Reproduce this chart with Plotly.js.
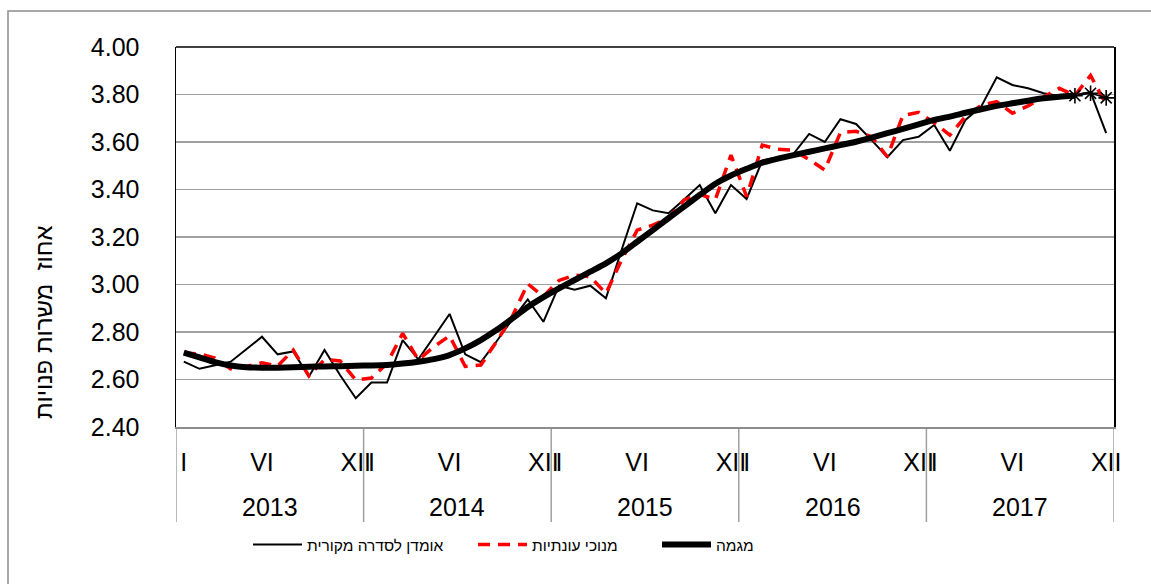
<!DOCTYPE html>
<html>
<head>
<meta charset="utf-8">
<script src="https://cdn.plot.ly/plotly-3.0.1.min.js"></script>
<style>html,body{margin:0;padding:0;background:#fff;}#chart{width:1151px;height:584px;}</style>
</head>
<body>
<div id="chart"></div>
<script>
// ---- data ----
const years = ['2013', '2014', '2015', '2016', '2017'];
const monthNames = ['I','II','III','IV','V','VI','VII','VIII','IX','X','XI','XII'];
const shownMonths = ['I', 'VI', 'XII'];

const seriesNames = ['אומדן לסדרה מקורית', 'מנוכי עונתיות', 'מגמה'];
const yTitle = 'אחוז  משרות פנויות';

// original series (thin black)
const original = [
  2.675, 2.645, 2.660, 2.675, 2.727, 2.780, 2.706, 2.718, 2.612, 2.724, 2.618, 2.521,
  2.587, 2.587, 2.766, 2.685, 2.780, 2.876, 2.706, 2.673, 2.760, 2.852, 2.937, 2.843,
  2.995, 2.978, 2.995, 2.942, 3.145, 3.342, 3.312, 3.300, 3.358, 3.419, 3.300, 3.419,
  3.360, 3.522, 3.536, 3.550, 3.634, 3.600, 3.696, 3.676, 3.608, 3.536, 3.608, 3.622,
  3.672, 3.563, 3.693, 3.749, 3.872, 3.840, 3.826, 3.805, 3.794, 3.798, 3.810, 3.637
];
// seasonally adjusted (red dashed)
const seasAdj = [
  2.712, 2.708, 2.690, 2.645, 2.655, 2.670, 2.657, 2.724, 2.615, 2.684, 2.678, 2.598,
  2.606, 2.668, 2.794, 2.683, 2.738, 2.784, 2.655, 2.661, 2.759, 2.864, 3.003, 2.950,
  3.017, 3.040, 3.033, 2.962, 3.103, 3.229, 3.250, 3.279, 3.356, 3.380, 3.358, 3.545,
  3.370, 3.587, 3.569, 3.565, 3.526, 3.482, 3.640, 3.645, 3.622, 3.538, 3.712, 3.725,
  3.681, 3.629, 3.707, 3.754, 3.770, 3.721, 3.752, 3.790, 3.826, 3.796, 3.880, 3.758
];
// trend (thick black)
const trend = [
  2.713, 2.693, 2.673, 2.659, 2.652, 2.650, 2.650, 2.652, 2.654, 2.655, 2.656, 2.658,
  2.659, 2.661, 2.667, 2.675, 2.686, 2.703, 2.731, 2.766, 2.808, 2.856, 2.905, 2.947,
  2.984, 3.019, 3.054, 3.089, 3.131, 3.180, 3.229, 3.279, 3.328, 3.377, 3.424, 3.459,
  3.487, 3.513, 3.530, 3.545, 3.559, 3.573, 3.587, 3.601, 3.618, 3.637, 3.655, 3.674,
  3.693, 3.707, 3.723, 3.738, 3.752, 3.763, 3.774, 3.784, 3.791, 3.795, 3.805, 3.786
];
const provisionalMonths = 3; // last trend points marked with asterisks

// ---- build ----
const n = years.length * 12;
const idx = Array.from({length: n}, (_, i) => i);
const tickvals = idx.filter(i => shownMonths.includes(monthNames[i % 12]));
const ticktext = tickvals.map(i => monthNames[i % 12]);
const provStart = n - provisionalMonths;

const FONT = 'Liberation Sans, Arial, sans-serif';

const traces = [
  {x: idx, y: original, type: 'scatter', mode: 'lines', name: seriesNames[0],
   line: {color: '#000000', width: 2}, legend: 'legend'},
  {x: idx, y: seasAdj, type: 'scatter', mode: 'lines', name: seriesNames[1],
   line: {color: '#ff0000', width: 3.5, dash: '12px,8px'}, legend: 'legend2'},
  {x: idx.slice(0, provStart + 1), y: trend.slice(0, provStart + 1), type: 'scatter', mode: 'lines',
   name: seriesNames[2], line: {color: '#000000', width: 6, shape: 'spline', smoothing: 0.6}, legend: 'legend3'},
  {x: idx.slice(provStart), y: trend.slice(provStart), type: 'scatter', mode: 'lines+markers',
   showlegend: false, line: {color: '#000000', width: 1.5},
   marker: {symbol: 'asterisk-open', size: 13, color: '#000000', line: {color: '#000000', width: 1.6}}}
];

// layout geometry (plot area 176..1114 x 47..427)
const L = 176, R = 1151 - 1114, T = 47, B = 584 - 427;
const pw = 1151 - L - R, ph = 584 - T - B;
const px2x = p => (p - L) / pw;
const py2y = p => (584 - B - p) / ph;

const shapes = [];
// year dividers below the axis
for (let k = 0; k <= years.length; k++) {
  shapes.push({type: 'line', xref: 'x', yref: 'paper', x0: k * 12 - 0.5, x1: k * 12 - 0.5,
    y0: 0, y1: py2y(522), line: {color: '#a0a0a0', width: 1.5}, layer: 'below'});
}
// top frame line
shapes.push({type: 'line', xref: 'paper', yref: 'paper', x0: 0, x1: 1, y0: 1, y1: 1,
  line: {color: '#000000', width: 1.5}});
// outer chart border
shapes.push({type: 'rect', xref: 'paper', yref: 'paper', x0: px2x(8), x1: px2x(1170),
  y0: py2y(610), y1: py2y(11), line: {color: '#8c8c8c', width: 1.5}});

const annotations = years.map((yr, k) => ({
  xref: 'x', yref: 'paper', x: k * 12 + 5.5, y: py2y(507), text: yr, showarrow: false,
  xanchor: 'center', yanchor: 'middle', font: {family: FONT, size: 25, color: '#000'}
}));
annotations.push({xref: 'paper', yref: 'paper', x: px2x(44), y: py2y(322), text: yTitle,
  textangle: -90, showarrow: false, xanchor: 'center', yanchor: 'middle',
  font: {family: FONT, size: 24, color: '#000'}});

const legendBase = {orientation: 'h', yanchor: 'middle', xanchor: 'left', y: py2y(545),
  font: {family: FONT, size: 15.5, color: '#000'}, itemwidth: 49, bgcolor: 'rgba(0,0,0,0)',
  borderwidth: 0, tracegroupgap: 0};

const layout = {
  width: 1151, height: 584,
  margin: {l: L, r: R, t: T, b: B, pad: 0},
  paper_bgcolor: '#ffffff', plot_bgcolor: '#ffffff',
  font: {family: FONT, color: '#000'},
  showlegend: true,
  xaxis: {range: [-0.5, n - 0.5], tickmode: 'array', tickvals: tickvals, ticktext: ticktext,
    showgrid: false, zeroline: false, showline: true, linecolor: '#8c8c8c', linewidth: 2,
    ticks: '', tickangle: 0, ticklabelstandoff: 12,
    tickfont: {family: FONT, size: 25, color: '#000'}},
  yaxis: {range: [2.4, 4.0], dtick: 0.2, tick0: 2.4, tickformat: '.2f',
    showgrid: true, gridcolor: '#a0a0a0', gridwidth: 1.5, zeroline: false,
    showline: true, mirror: true, linecolor: '#000000', linewidth: 1.5,
    ticks: '', ticklabelstandoff: 30,
    tickfont: {family: FONT, size: 25, color: '#000'}},
  legend: Object.assign({}, legendBase, {x: px2x(248)}),
  legend2: Object.assign({}, legendBase, {x: px2x(473)}),
  legend3: Object.assign({}, legendBase, {x: px2x(657)}),
  shapes: shapes,
  annotations: annotations
};

Plotly.newPlot('chart', traces, layout, {displayModeBar: false, staticPlot: true});
</script>
</body>
</html>
